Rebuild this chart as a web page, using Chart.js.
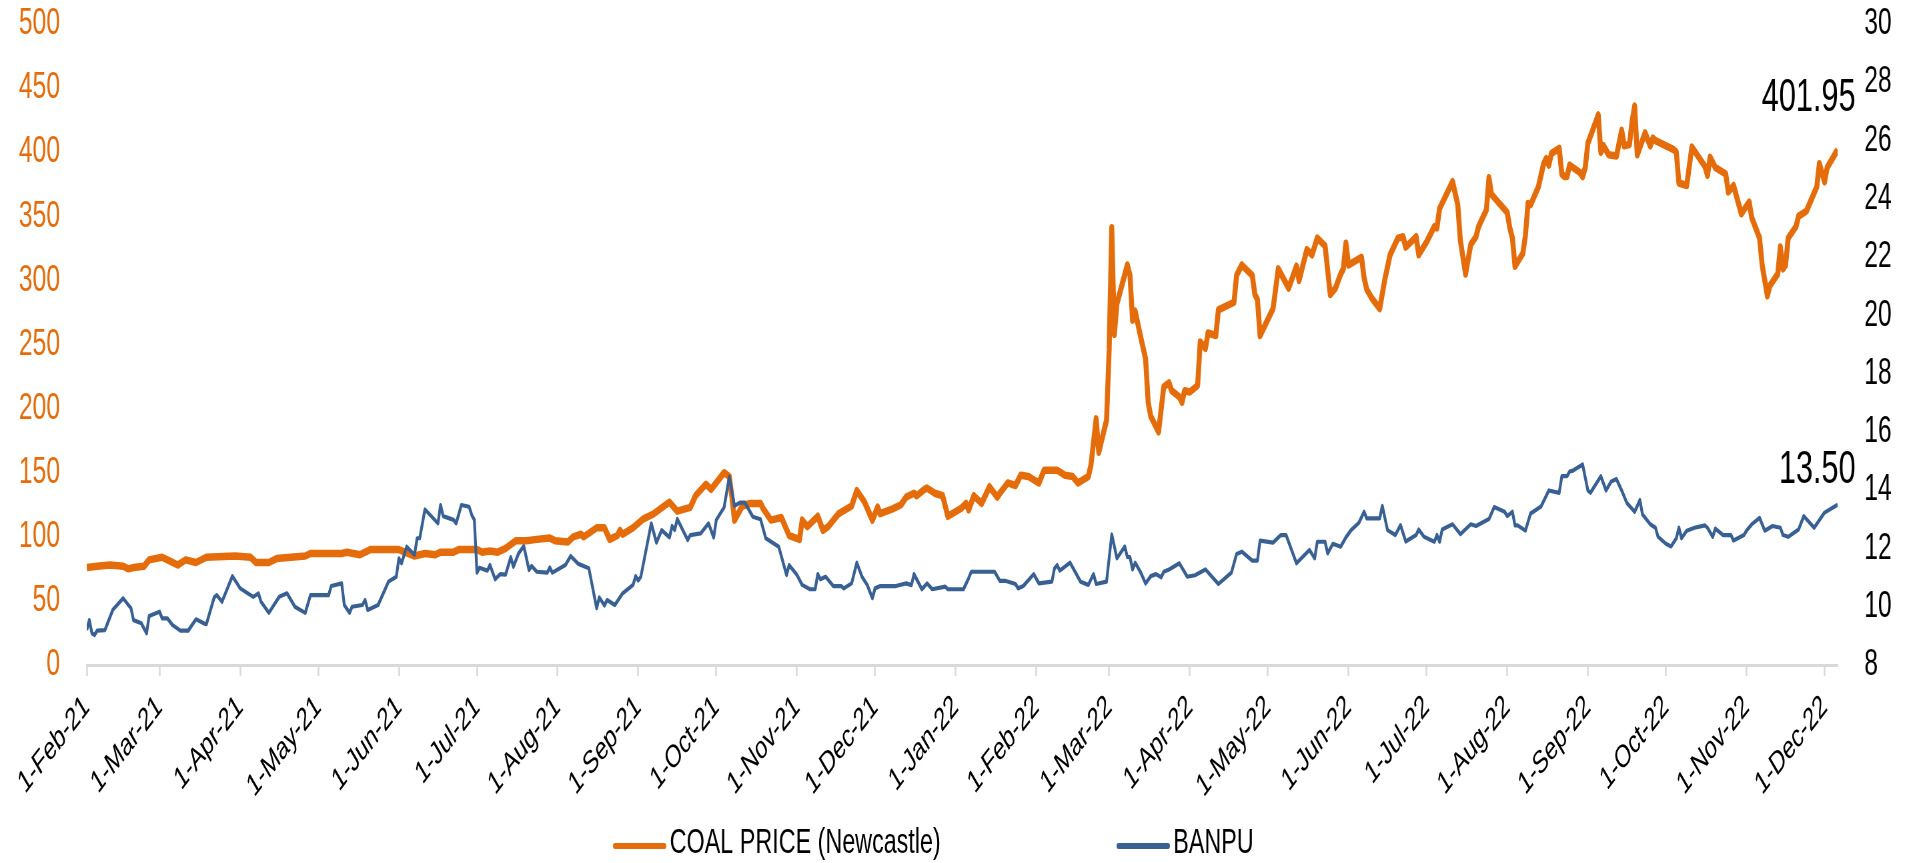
<!DOCTYPE html>
<html>
<head>
<meta charset="utf-8">
<script src="https://cdn.jsdelivr.net/npm/chart.js@4.4.1/dist/chart.umd.min.js"></script>
<style>
  html, body { margin: 0; padding: 0; overflow: hidden; background: #fff; }
  /* the reference is a squeezed picture, so the chart is drawn wide and squeezed */
  #wrap { width: 2868px; height: 863px; transform: scaleX(0.667); transform-origin: 0 0; }
</style>
</head>
<body>
<div id="wrap"><canvas id="chart"></canvas></div>
<script>
const tickDates = ['2021-02-01', '2021-03-01', '2021-04-01', '2021-05-01', '2021-06-01', '2021-07-01',
    '2021-08-01', '2021-09-01', '2021-10-01', '2021-11-01', '2021-12-01', '2022-01-01', '2022-02-01',
    '2022-03-01', '2022-04-01', '2022-05-01', '2022-06-01', '2022-07-01', '2022-08-01', '2022-09-01',
    '2022-10-01', '2022-11-01', '2022-12-01'];
const tickLabels = ['1-Feb-21', '1-Mar-21', '1-Apr-21', '1-May-21', '1-Jun-21', '1-Jul-21',
    '1-Aug-21', '1-Sep-21', '1-Oct-21', '1-Nov-21', '1-Dec-21', '1-Jan-22', '1-Feb-22',
    '1-Mar-22', '1-Apr-22', '1-May-22', '1-Jun-22', '1-Jul-22', '1-Aug-22', '1-Sep-22',
    '1-Oct-22', '1-Nov-22', '1-Dec-22'];

// COAL PRICE (Newcastle), left axis
const coalDates = [
    '2021-02-01', '2021-02-05', '2021-02-10', '2021-02-15', '2021-02-17', '2021-02-19', '2021-02-23', '2021-02-25',
    '2021-03-02', '2021-03-05', '2021-03-08', '2021-03-11', '2021-03-15', '2021-03-19', '2021-03-30',
    '2021-04-05', '2021-04-07', '2021-04-12', '2021-04-15', '2021-04-26', '2021-04-28',
    '2021-05-10', '2021-05-12', '2021-05-17', '2021-05-21',
    '2021-06-01', '2021-06-07', '2021-06-11', '2021-06-15', '2021-06-17', '2021-06-22', '2021-06-24',
    '2021-07-01', '2021-07-03', '2021-07-06', '2021-07-09', '2021-07-12', '2021-07-16', '2021-07-20', '2021-07-24', '2021-07-29', '2021-07-31',
    '2021-08-05', '2021-08-07', '2021-08-10', '2021-08-11', '2021-08-16', '2021-08-19', '2021-08-21', '2021-08-24', '2021-08-25', '2021-08-26', '2021-08-30',
    '2021-09-03', '2021-09-07', '2021-09-13', '2021-09-16', '2021-09-21', '2021-09-23', '2021-09-27', '2021-09-29',
    '2021-10-04', '2021-10-06', '2021-10-07', '2021-10-08', '2021-10-11', '2021-10-14', '2021-10-18', '2021-10-19', '2021-10-22', '2021-10-26', '2021-10-29',
    '2021-11-02', '2021-11-03', '2021-11-05', '2021-11-09', '2021-11-11', '2021-11-13', '2021-11-17', '2021-11-22', '2021-11-24', '2021-11-27', '2021-11-30',
    '2021-12-02', '2021-12-03', '2021-12-08', '2021-12-11', '2021-12-13', '2021-12-16', '2021-12-17', '2021-12-20', '2021-12-21', '2021-12-24', '2021-12-27', '2021-12-29',
    '2022-01-03', '2022-01-05', '2022-01-06', '2022-01-08', '2022-01-11', '2022-01-14', '2022-01-17', '2022-01-18', '2022-01-21', '2022-01-24', '2022-01-26', '2022-01-29',
    '2022-02-02', '2022-02-04', '2022-02-09', '2022-02-12', '2022-02-15', '2022-02-17', '2022-02-21', '2022-02-22', '2022-02-24', '2022-02-25', '2022-02-28',
    '2022-03-01', '2022-03-02', '2022-03-03', '2022-03-04', '2022-03-08', '2022-03-09', '2022-03-10', '2022-03-11', '2022-03-13', '2022-03-15',
    '2022-03-16', '2022-03-17', '2022-03-20', '2022-03-22', '2022-03-24', '2022-03-25', '2022-03-28', '2022-03-29', '2022-03-30',
    '2022-04-01', '2022-04-04', '2022-04-05', '2022-04-07', '2022-04-08', '2022-04-11', '2022-04-12', '2022-04-18', '2022-04-19', '2022-04-21', '2022-04-25', '2022-04-26', '2022-04-27', '2022-04-28',
    '2022-05-03', '2022-05-05', '2022-05-09', '2022-05-12', '2022-05-13', '2022-05-16', '2022-05-18', '2022-05-20', '2022-05-23', '2022-05-25', '2022-05-27', '2022-05-29', '2022-05-30', '2022-05-31',
    '2022-06-01', '2022-06-06', '2022-06-07', '2022-06-08', '2022-06-10', '2022-06-13', '2022-06-15', '2022-06-17', '2022-06-20', '2022-06-22', '2022-06-23', '2022-06-27', '2022-06-28',
    '2022-07-01', '2022-07-04', '2022-07-05', '2022-07-06', '2022-07-11', '2022-07-13', '2022-07-14', '2022-07-16', '2022-07-18', '2022-07-20', '2022-07-21', '2022-07-24', '2022-07-25', '2022-07-26', '2022-07-29',
    '2022-08-01', '2022-08-02', '2022-08-03', '2022-08-04', '2022-08-07', '2022-08-08', '2022-08-09', '2022-08-10', '2022-08-13', '2022-08-15', '2022-08-16',
    '2022-08-17', '2022-08-18', '2022-08-21', '2022-08-22', '2022-08-23', '2022-08-24', '2022-08-25', '2022-08-29', '2022-08-30', '2022-08-31',
    '2022-09-01', '2022-09-05', '2022-09-06', '2022-09-07', '2022-09-09', '2022-09-12', '2022-09-14', '2022-09-15', '2022-09-17', '2022-09-18', '2022-09-19',
    '2022-09-20', '2022-09-23', '2022-09-25', '2022-09-26', '2022-09-27',
    '2022-10-04', '2022-10-05', '2022-10-06', '2022-10-09', '2022-10-11', '2022-10-16', '2022-10-17', '2022-10-18', '2022-10-20', '2022-10-24', '2022-10-25', '2022-10-27', '2022-10-30',
    '2022-11-02', '2022-11-03', '2022-11-06', '2022-11-07', '2022-11-09', '2022-11-10', '2022-11-13', '2022-11-14', '2022-11-15', '2022-11-16', '2022-11-17',
    '2022-11-20', '2022-11-21', '2022-11-24', '2022-11-28', '2022-11-29',
    '2022-12-01', '2022-12-02', '2022-12-06'
];
const coalPrice = [
    76, 77, 78, 77, 75, 76, 77, 82,
    84, 81, 78, 82, 80, 84, 85,
    84, 80, 80, 83, 85, 87,
    87, 88, 86, 90,
    90, 85, 87, 86, 88, 88, 90,
    90, 88, 89, 88, 91, 97, 97, 98, 99, 97,
    96, 100, 102, 100, 107, 107, 98, 101, 105, 102, 107,
    114, 118, 127, 120, 123, 132, 141, 137,
    150, 147, 131, 113, 124, 126, 126, 122, 113, 115, 101,
    98, 113, 108, 116, 105, 108, 118, 124, 136, 127, 113,
    123, 118, 122, 125, 131, 134, 132, 137, 138, 134, 132, 116,
    122, 126, 121, 132, 126, 139, 131, 134, 142, 140, 148, 147,
    142, 152, 152, 148, 147, 142, 147, 156, 192, 166, 191,
    246, 341, 258, 282, 312, 304, 269, 276, 257, 239,
    205, 194, 182, 217, 220, 214, 209, 205, 214,
    213, 218, 252, 247, 259, 257, 277, 283, 304, 312, 304, 289, 285, 257,
    278, 309, 294, 311, 300, 324, 320, 333, 327, 289, 294, 305, 309, 329,
    312, 318, 302, 293, 286, 278, 301, 320, 333, 334, 326, 334, 320,
    330, 342, 341, 356, 377, 359, 331, 305, 328, 334, 342, 355, 380, 367, 360,
    353, 341, 333, 311, 321, 335, 360, 359, 373, 391, 395,
    390, 399, 403, 383, 381, 381, 390, 384, 381, 388,
    407, 429, 400, 405, 398, 397, 417, 405, 406, 424, 436,
    398, 415, 405, 411, 409,
    402, 400, 376, 374, 404, 389, 382, 396, 388, 383, 369, 374, 352,
    361, 349, 333, 312, 288, 296, 305, 326, 309, 312, 333,
    342, 350, 354, 373, 391,
    377, 388, 401.95
];

// BANPU, right axis
const banpuDates = [
    '2021-02-01', '2021-02-02', '2021-02-03', '2021-02-04', '2021-02-05', '2021-02-08', '2021-02-09', '2021-02-11', '2021-02-15', '2021-02-17', '2021-02-18', '2021-02-19', '2021-02-22', '2021-02-24', '2021-02-25',
    '2021-03-01', '2021-03-02', '2021-03-04', '2021-03-06', '2021-03-09', '2021-03-12', '2021-03-15', '2021-03-18', '2021-03-19', '2021-03-22', '2021-03-23', '2021-03-25', '2021-03-29',
    '2021-04-01', '2021-04-06', '2021-04-08', '2021-04-09', '2021-04-12', '2021-04-16', '2021-04-19', '2021-04-22', '2021-04-26', '2021-04-28',
    '2021-05-05', '2021-05-06', '2021-05-10', '2021-05-11', '2021-05-13', '2021-05-14', '2021-05-18', '2021-05-19', '2021-05-20', '2021-05-24', '2021-05-28', '2021-05-31',
    '2021-06-01', '2021-06-02', '2021-06-04', '2021-06-07', '2021-06-08', '2021-06-09', '2021-06-11', '2021-06-16', '2021-06-17', '2021-06-18', '2021-06-22', '2021-06-23', '2021-06-25', '2021-06-28', '2021-06-29', '2021-06-30',
    '2021-07-01', '2021-07-02', '2021-07-05', '2021-07-06', '2021-07-08', '2021-07-10', '2021-07-12', '2021-07-14', '2021-07-15', '2021-07-17', '2021-07-19', '2021-07-21', '2021-07-22', '2021-07-24', '2021-07-28', '2021-07-29', '2021-07-30',
    '2021-08-04', '2021-08-06', '2021-08-09', '2021-08-13', '2021-08-16', '2021-08-17', '2021-08-19', '2021-08-20', '2021-08-23', '2021-08-26', '2021-08-30', '2021-08-31',
    '2021-09-01', '2021-09-02', '2021-09-06', '2021-09-08', '2021-09-10', '2021-09-13', '2021-09-14', '2021-09-15', '2021-09-16', '2021-09-20', '2021-09-21', '2021-09-25', '2021-09-28', '2021-09-30',
    '2021-10-01', '2021-10-04', '2021-10-06', '2021-10-08', '2021-10-10', '2021-10-12', '2021-10-15', '2021-10-18', '2021-10-20', '2021-10-25', '2021-10-28', '2021-10-29',
    '2021-11-01', '2021-11-03', '2021-11-06', '2021-11-08', '2021-11-09', '2021-11-10', '2021-11-12', '2021-11-15', '2021-11-18', '2021-11-19', '2021-11-22', '2021-11-24', '2021-11-26', '2021-11-28', '2021-11-30',
    '2021-12-01', '2021-12-03', '2021-12-09', '2021-12-13', '2021-12-15', '2021-12-16', '2021-12-19', '2021-12-21', '2021-12-23', '2021-12-28', '2021-12-29',
    '2022-01-04', '2022-01-06', '2022-01-07', '2022-01-16', '2022-01-18', '2022-01-20', '2022-01-24', '2022-01-25', '2022-01-27', '2022-01-31',
    '2022-02-02', '2022-02-07', '2022-02-08', '2022-02-09', '2022-02-10', '2022-02-14', '2022-02-18', '2022-02-21', '2022-02-23', '2022-02-24', '2022-02-28',
    '2022-03-02', '2022-03-04', '2022-03-07', '2022-03-08', '2022-03-09', '2022-03-10', '2022-03-11', '2022-03-13', '2022-03-15', '2022-03-17', '2022-03-19', '2022-03-21', '2022-03-22', '2022-03-24', '2022-03-28', '2022-03-31',
    '2022-04-03', '2022-04-07', '2022-04-12', '2022-04-17', '2022-04-19', '2022-04-21', '2022-04-25', '2022-04-27', '2022-04-28',
    '2022-05-03', '2022-05-06', '2022-05-08', '2022-05-12', '2022-05-17', '2022-05-19', '2022-05-20', '2022-05-23', '2022-05-24', '2022-05-26', '2022-05-29', '2022-05-31',
    '2022-06-02', '2022-06-05', '2022-06-07', '2022-06-08', '2022-06-13', '2022-06-14', '2022-06-16', '2022-06-19', '2022-06-21', '2022-06-23', '2022-06-27', '2022-06-28', '2022-06-30',
    '2022-07-04', '2022-07-05', '2022-07-06', '2022-07-07', '2022-07-11', '2022-07-14', '2022-07-18', '2022-07-20', '2022-07-25', '2022-07-27', '2022-07-31',
    '2022-08-01', '2022-08-03', '2022-08-04', '2022-08-05', '2022-08-08', '2022-08-10', '2022-08-14', '2022-08-17', '2022-08-21', '2022-08-22', '2022-08-24', '2022-08-25', '2022-08-26', '2022-08-30',
    '2022-09-01', '2022-09-02', '2022-09-06', '2022-09-08', '2022-09-10', '2022-09-12', '2022-09-14', '2022-09-16', '2022-09-19', '2022-09-21', '2022-09-22', '2022-09-25', '2022-09-27', '2022-09-28',
    '2022-10-01', '2022-10-03', '2022-10-05', '2022-10-06', '2022-10-07', '2022-10-09', '2022-10-12', '2022-10-16', '2022-10-17', '2022-10-19', '2022-10-20', '2022-10-23', '2022-10-26', '2022-10-27', '2022-10-31',
    '2022-11-01', '2022-11-03', '2022-11-06', '2022-11-08', '2022-11-11', '2022-11-14', '2022-11-15', '2022-11-17', '2022-11-21', '2022-11-23', '2022-11-27',
    '2022-12-01', '2022-12-06'
];
const banpuPrice = [
    9.2, 9.54, 9.09, 9.03, 9.18, 9.2, 9.43, 9.89, 10.29, 10.06, 9.95, 9.54, 9.43, 9.09, 9.68,
    9.83, 9.6, 9.6, 9.37, 9.18, 9.18, 9.57, 9.43, 9.4, 10.32, 10.4, 10.17, 11.05,
    10.63, 10.34, 10.46, 10.17, 9.79, 10.34, 10.46, 10.0, 9.79, 10.4,
    10.4, 10.71, 10.8, 10.06, 9.79, 10.0, 10.06, 10.23, 9.89, 10.06, 10.86, 11.03,
    11.66, 11.49, 12.06, 11.78, 12.35, 12.35, 13.34, 12.86, 13.49, 13.11, 12.98, 12.86, 13.49, 13.43, 13.15, 12.98,
    11.17, 11.34, 11.24, 11.43, 10.94, 11.12, 11.1, 11.7, 11.37, 11.83, 12.08, 11.26, 11.4, 11.2, 11.17, 11.35, 11.17,
    11.43, 11.74, 11.47, 11.32, 9.95, 10.32, 10.04, 10.23, 10.06, 10.46, 10.75, 11.05,
    10.9, 11.03, 12.86, 12.2, 12.63, 12.38, 12.77, 12.63, 13.01, 12.29, 12.46, 12.52, 12.86, 12.38,
    12.98, 13.41, 14.46, 13.46, 13.57, 13.57, 13.09, 13.0, 12.35, 12.06, 11.09, 11.43,
    11.09, 10.75, 10.6, 10.6, 11.12, 10.94, 11.03, 10.71, 10.71, 10.63, 10.8, 11.51, 11.03, 10.75, 10.29,
    10.63, 10.71, 10.71, 10.8, 10.74, 11.12, 10.6, 10.8, 10.6, 10.69, 10.6,
    10.6, 10.98, 11.2, 11.2, 10.89, 10.89, 10.78, 10.63, 10.71, 11.12,
    10.8, 10.86, 11.32, 11.43, 11.24, 11.51, 10.86, 10.75, 11.12, 10.78, 10.86,
    12.48, 11.66, 12.07, 11.71, 11.7, 11.28, 11.51, 11.2, 10.8, 11.05, 11.12, 11.01, 11.2, 11.28, 11.49, 11.03,
    11.08, 11.28, 10.78, 11.17, 11.81, 11.89, 11.58, 11.58, 12.27,
    12.2, 12.46, 12.46, 11.49, 11.95, 11.66, 12.23, 12.23, 11.83, 12.16, 12.06, 12.38,
    12.63, 12.88, 13.26, 13.03, 13.03, 13.46, 12.63, 12.46, 12.8, 12.24, 12.46, 12.65, 12.4,
    12.23, 12.46, 12.23, 12.65, 12.83, 12.49, 12.83, 12.77, 13.01, 13.42, 13.26,
    13.11, 13.26, 12.79, 12.79, 12.61, 13.2, 13.44, 13.99, 13.91, 14.48, 14.48, 14.64, 14.66, 14.88,
    13.99, 13.91, 14.48, 13.99, 14.3, 14.38, 13.99, 13.56, 13.26, 13.66, 13.17, 12.83, 12.71, 12.4,
    12.16, 12.07, 12.35, 12.71, 12.35, 12.61, 12.71, 12.79, 12.71, 12.4, 12.68, 12.46, 12.46, 12.27, 12.46,
    12.61, 12.83, 13.05, 12.61, 12.77, 12.71, 12.46, 12.4, 12.65, 13.11, 12.71,
    13.23, 13.5
];

const START = Date.UTC(2021, 1, 1);

function dayNo(s) {
    let [y, m, d] = s.split('-').map(Number);
    return Math.round((Date.UTC(y, m - 1, d) - START) / 86400000);
}

function toPoints(dates, values) {
    return dates.map((d, i) => ({x: dayNo(d), y: values[i]}));
}

let tickDays = tickDates.map(dayNo);
let lastDay = Math.max(dayNo(coalDates[coalDates.length - 1]), dayNo(banpuDates[banpuDates.length - 1]));

// small legend drawn under the axis labels
const lineLegend = {
    id: 'lineLegend',
    afterDraw(chart, args, opts) {
        let ctx = chart.ctx;
        ctx.save();
        ctx.font = opts.font;
        ctx.textBaseline = 'middle';
        ctx.textAlign = 'left';
        chart.data.datasets.forEach((ds, i) => {
            let x = opts.xs[i];
            ctx.strokeStyle = ds.borderColor;
            ctx.lineWidth = opts.lineWidth;
            ctx.lineCap = 'round';
            ctx.beginPath();
            ctx.moveTo(x, opts.y + 3);
            ctx.lineTo(x + opts.lineLength, opts.y + 3);
            ctx.stroke();
            ctx.fillStyle = '#000';
            ctx.fillText(ds.label, x + opts.lineLength + opts.gap, opts.y);
        });
        ctx.restore();
    }
};

// last value written next to the end of each line
const lastValue = {
    id: 'lastValue',
    afterDatasetsDraw(chart, args, opts) {
        let ctx = chart.ctx;
        ctx.save();
        ctx.font = opts.font;
        ctx.fillStyle = '#000';
        ctx.textAlign = 'right';
        ctx.textBaseline = 'middle';
        chart.data.datasets.forEach((ds, i) => {
            let meta = chart.getDatasetMeta(i);
            let pt = meta.data[meta.data.length - 1];
            let v = ds.data[ds.data.length - 1].y;
            ctx.fillText(v.toFixed(2), pt.x + opts.dx, pt.y + opts.dy[i]);
        });
        ctx.restore();
    }
};

// keep the plot area where the axes say, not where label padding pushes it
function noPad(scale) {
    scale.paddingTop = 0;
    scale.paddingBottom = 0;
    scale.paddingLeft = 0;
    scale.paddingRight = 0;
}

Chart.defaults.font.family = "'Liberation Sans', Arial, sans-serif";
Chart.defaults.color = '#000';

new Chart(document.getElementById('chart'), {
    type: 'line',
    data: {
        datasets: [
            {
                label: 'COAL PRICE (Newcastle)',
                data: toPoints(coalDates, coalPrice),
                borderColor: '#E46C0A',
                backgroundColor: '#E46C0A',
                borderWidth: 7.5,
                pointRadius: 0,
                tension: 0,
                borderJoinStyle: 'round',
                yAxisID: 'y',
                order: 1
            },
            {
                label: 'BANPU',
                data: toPoints(banpuDates, banpuPrice),
                borderColor: '#386093',
                backgroundColor: '#386093',
                borderWidth: 4.2,
                pointRadius: 0,
                tension: 0,
                borderJoinStyle: 'round',
                yAxisID: 'y2',
                order: 0
            }
        ]
    },
    options: {
        responsive: true,
        maintainAspectRatio: false,
        animation: false,
        layout: {padding: {top: 24, left: 0, right: 0, bottom: 0}},
        plugins: {
            legend: {display: false},
            tooltip: {enabled: false},
            lineLegend: {
                xs: [922, 1677],
                y: 843,
                lineLength: 74,
                gap: 8,
                lineWidth: 6,
                font: "35px 'Liberation Sans', Arial, sans-serif"
            },
            lastValue: {
                dx: 27,
                dy: [-51, -34],
                font: "46px 'Liberation Sans', Arial, sans-serif"
            }
        },
        scales: {
            x: {
                type: 'linear',
                min: 0,
                max: lastDay,
                afterBuildTicks: (scale) => {
                    scale.ticks = tickDays.map(v => ({value: v}));
                },
                afterFit: (scale) => {
                    scale.height = 198;
                    noPad(scale);
                },
                ticks: {
                    autoSkip: false,
                    minRotation: 41,
                    maxRotation: 41,
                    padding: 12,
                    color: '#000',
                    font: {size: 32},
                    callback: (value, index) => tickLabels[index]
                },
                grid: {
                    drawOnChartArea: false,
                    drawTicks: true,
                    tickLength: 11,
                    tickWidth: 2.5,
                    tickColor: '#d9d9d9',
                    color: '#d9d9d9'
                },
                border: {color: '#d9d9d9', width: 3}
            },
            y: {
                type: 'linear',
                position: 'left',
                min: 0,
                max: 500,
                afterFit: (scale) => {
                    scale.width = 130;
                    noPad(scale);
                },
                ticks: {
                    stepSize: 50,
                    padding: 40,
                    color: '#E46C0A',
                    font: {size: 37}
                },
                grid: {display: false, drawTicks: false},
                border: {display: false}
            },
            y2: {
                type: 'linear',
                position: 'right',
                min: 8,
                max: 30,
                afterFit: (scale) => {
                    scale.width = 113;
                    noPad(scale);
                },
                ticks: {
                    stepSize: 2,
                    padding: 40,
                    color: '#000',
                    font: {size: 37}
                },
                grid: {display: false, drawTicks: false},
                border: {display: false}
            }
        }
    },
    plugins: [lineLegend, lastValue]
});
</script>
</body>
</html>
